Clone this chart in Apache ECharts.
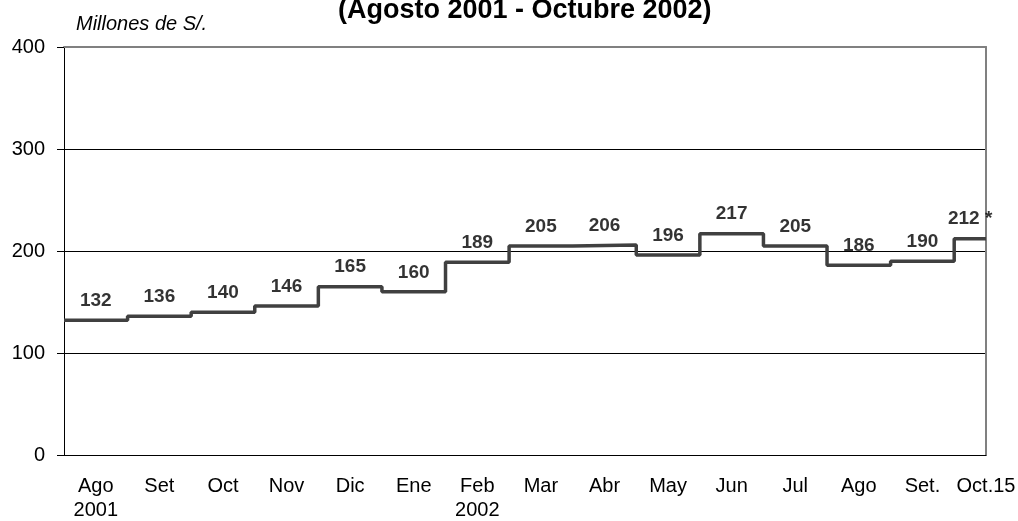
<!DOCTYPE html>
<html>
<head>
<meta charset="utf-8">
<script src="https://cdn.jsdelivr.net/npm/echarts@6/dist/echarts.min.js"></script>
<style>
  html, body { margin: 0; padding: 0; background: #fff; }
  #chart { width: 1018px; height: 521px; }
</style>
</head>
<body>
<div id="chart"></div>
<script>
// meses (el último periodo llega hasta el 15 de octubre)
var months = ['Ago', 'Set', 'Oct', 'Nov', 'Dic', 'Ene', 'Feb', 'Mar', 'Abr', 'May', 'Jun', 'Jul', 'Ago', 'Set.', 'Oct.15'];
var years = ['2001', '', '', '', '', '', '2002', '', '', '', '', '', '', '', ''];
var values = [132, 136, 140, 146, 165, 160, 189, 205, 206, 196, 217, 205, 186, 190, 212];
var notes = ['', '', '', '', '', '', '', '', '', '', '', '', '', '', ' *'];
var lastPeriodEnd = 14.5;
var yTicks = [0, 100, 200, 300, 400];

var FONT = 'Liberation Sans, Arial, sans-serif';

// puntos de la escalera: inicio de cada mes, más el fin del último periodo
var stepData = [];
for (var i = 0; i < values.length; i++) {
  stepData.push([i, values[i]]);
}
stepData.push([lastPeriodEnd, values[values.length - 1]]);

// etiquetas en el centro de cada tramo
var labelData = [];
for (var j = 0; j < values.length; j++) {
  var end = j + 1 < values.length ? j + 1 : lastPeriodEnd;
  labelData.push({ value: [(j + end) / 2, values[j]], note: notes[j] });
}

var chart = echarts.init(document.getElementById('chart'));
chart.setOption({
  animation: false,
  backgroundColor: '#fff',
  title: {
    text: '(Agosto 2001 - Octubre 2002)',
    left: 333,
    top: -8,
    textStyle: { fontFamily: FONT, fontSize: 27, fontWeight: 'bold', color: '#000' }
  },
  graphic: [{
    type: 'text',
    left: 76,
    top: 14,
    style: { text: 'Millones de S/.', fontFamily: FONT, fontSize: 20, fontStyle: 'italic', fill: '#000' }
  }],
  grid: { left: 64, right: 32, top: 47, bottom: 66, outerBoundsMode: 'none' },
  xAxis: [{
    type: 'value',
    min: 0,
    max: lastPeriodEnd,
    interval: 0.5,
    axisLine: { show: true, lineStyle: { color: '#000', width: 1 } },
    axisTick: { show: false },
    splitLine: { show: false },
    axisLabel: {
      margin: 19,
      fontFamily: FONT,
      fontSize: 20,
      lineHeight: 24,
      color: '#000',
      formatter: function (v) {
        var k = Math.round(v * 2);
        if (k % 2 !== 1) return '';
        var idx = (k - 1) / 2;
        return months[idx] + (years[idx] ? '\n' + years[idx] : '');
      }
    }
  }, {
    type: 'value',
    position: 'top',
    min: 0,
    max: lastPeriodEnd,
    axisLine: { show: true, onZero: false, lineStyle: { color: '#808080', width: 2 } },
    axisTick: { show: false },
    axisLabel: { show: false },
    splitLine: { show: false }
  }],
  yAxis: [{
    type: 'value',
    min: yTicks[0],
    max: yTicks[yTicks.length - 1],
    interval: 100,
    axisLine: { show: true, lineStyle: { color: '#000', width: 1 } },
    axisTick: { show: true, inside: false, length: 7, lineStyle: { color: '#000' } },
    axisLabel: { margin: 19, fontFamily: FONT, fontSize: 20, color: '#000' },
    splitLine: { show: true, showMinLine: false, showMaxLine: false, lineStyle: { color: '#000', width: 1 } }
  }, {
    type: 'value',
    position: 'right',
    min: yTicks[0],
    max: yTicks[yTicks.length - 1],
    axisLine: { show: true, onZero: false, lineStyle: { color: '#808080', width: 2 } },
    axisTick: { show: false },
    axisLabel: { show: false },
    splitLine: { show: false }
  }],
  series: [{
    type: 'line',
    step: 'end',
    data: stepData,
    symbol: 'none',
    lineStyle: { color: '#404040', width: 3.5 },
    z: 3
  }, {
    type: 'scatter',
    data: labelData,
    symbolSize: 0,
    silent: true,
    label: {
      show: true,
      position: 'top',
      distance: 10,
      fontFamily: FONT,
      fontSize: 19,
      fontWeight: 'bold',
      color: '#000',
      formatter: function (p) { return p.value[1] + p.data.note; }
    },
    z: 4
  }]
});
</script>
</body>
</html>
